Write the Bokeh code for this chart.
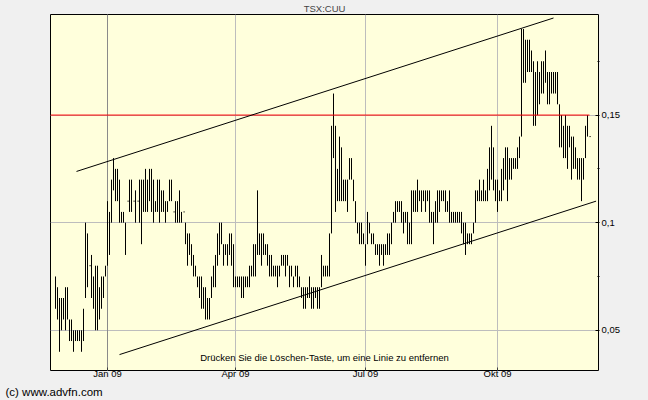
import pandas as pd
from bokeh.plotting import figure
from bokeh.models import FixedTicker, Grid, Title, Label, ColumnDataSource, Range1d
from bokeh.embed import file_html
from bokeh.resources import INLINE

# ---------------- data ----------------
symbol = "TSX:CUU"
start_date = "2008-11-26"          # first trading day shown
month_names = {1: "Jan", 4: "Apr", 7: "Jul", 10: "Okt"}

highs = [
    0.075, 0.07, 0.065, 0.065, 0.065, 0.07, 0.07, 0.055, 0.055, 0.05, 0.05, 0.05, 0.05, 0.05, 0.06,
    0.10, 0.095, 0.08, 0.085, 0.075, 0.08, 0.08, 0.07, 0.075, 0.075, 0.08, 0.11, 0.105, 0.12, 0.13,
    0.125, 0.125, 0.12, 0.105, 0.105, 0.10, 0.11, 0.12, 0.12, 0.11, 0.115, 0.11, 0.12, 0.12,
    0.12, 0.125, 0.12, 0.125, 0.125, 0.12, 0.11, 0.12, 0.12, 0.115, 0.115, 0.11, 0.11, 0.12, 0.12,
    0.105, 0.11, 0.11, 0.115, 0.105, 0.105, 0.10, 0.095, 0.095, 0.09, 0.085, 0.08, 0.075, 0.075, 0.075,
    0.07, 0.07, 0.065, 0.065, 0.075, 0.08, 0.085, 0.095, 0.10, 0.10, 0.09, 0.09, 0.09, 0.095,
    0.095, 0.09, 0.075, 0.075, 0.075, 0.075, 0.075, 0.075, 0.075, 0.08, 0.08, 0.09, 0.09, 0.115, 0.095,
    0.095, 0.095, 0.09, 0.09, 0.085, 0.085, 0.08, 0.08, 0.08, 0.08, 0.085, 0.085, 0.085, 0.085, 0.08,
    0.08, 0.075, 0.08, 0.08, 0.075, 0.07, 0.07, 0.07, 0.07, 0.075, 0.07, 0.07, 0.07, 0.07, 0.07,
    0.085, 0.08, 0.08, 0.08, 0.095, 0.145, 0.16, 0.145, 0.125, 0.14, 0.135, 0.12, 0.12, 0.12, 0.13,
    0.13, 0.12, 0.11, 0.10, 0.10, 0.10, 0.095, 0.09, 0.105, 0.10, 0.095, 0.095, 0.09, 0.09, 0.09,
    0.09, 0.09, 0.09, 0.095, 0.095, 0.10, 0.105, 0.11, 0.11, 0.11, 0.11, 0.105, 0.105, 0.105, 0.10,
    0.115, 0.115, 0.115, 0.12, 0.115, 0.115, 0.115, 0.115, 0.115, 0.115, 0.105, 0.105, 0.11, 0.115, 0.115,
    0.115, 0.115, 0.115, 0.11, 0.115, 0.105, 0.105, 0.105, 0.105, 0.105, 0.105, 0.10, 0.10, 0.095, 0.095,
    0.095, 0.10, 0.115, 0.115, 0.12, 0.115, 0.12, 0.115, 0.125, 0.135, 0.145, 0.135, 0.12, 0.12, 0.115,
    0.125, 0.13, 0.135, 0.135, 0.13, 0.13, 0.13, 0.13, 0.135, 0.14, 0.19, 0.19, 0.185, 0.185, 0.185,
    0.18, 0.175, 0.17, 0.175, 0.17, 0.175, 0.175, 0.18, 0.17, 0.17, 0.17, 0.17, 0.17, 0.17, 0.155,
    0.15, 0.145, 0.15, 0.145, 0.145, 0.14, 0.14, 0.135, 0.13, 0.13, 0.13, 0.13, 0.145, 0.15, 0.14,
]
lows = [
    0.06, 0.055, 0.04, 0.05, 0.055, 0.05, 0.055, 0.045, 0.045, 0.04, 0.045, 0.045, 0.045, 0.04, 0.045,
    0.065, 0.07, 0.08, 0.065, 0.06, 0.05, 0.05, 0.055, 0.06, 0.065, 0.075, 0.08, 0.085, 0.10, 0.115,
    0.11, 0.11, 0.10, 0.10, 0.10, 0.085, 0.11, 0.105, 0.105, 0.11, 0.10, 0.11, 0.10, 0.09,
    0.105, 0.105, 0.105, 0.11, 0.105, 0.10, 0.105, 0.105, 0.10, 0.105, 0.105, 0.10, 0.105, 0.11, 0.11,
    0.105, 0.10, 0.10, 0.10, 0.10, 0.105, 0.09, 0.08, 0.085, 0.08, 0.075, 0.075, 0.07, 0.065, 0.06,
    0.06, 0.055, 0.055, 0.055, 0.065, 0.07, 0.07, 0.08, 0.085, 0.09, 0.08, 0.085, 0.08, 0.085,
    0.08, 0.07, 0.07, 0.07, 0.07, 0.065, 0.065, 0.07, 0.07, 0.07, 0.075, 0.075, 0.075, 0.085, 0.085,
    0.08, 0.085, 0.085, 0.08, 0.075, 0.075, 0.075, 0.075, 0.07, 0.075, 0.08, 0.08, 0.075, 0.08, 0.07,
    0.075, 0.07, 0.075, 0.07, 0.07, 0.065, 0.06, 0.06, 0.065, 0.065, 0.06, 0.06, 0.065, 0.06, 0.06,
    0.07, 0.075, 0.075, 0.075, 0.075, 0.095, 0.13, 0.105, 0.11, 0.11, 0.11, 0.11, 0.11, 0.105, 0.12,
    0.12, 0.11, 0.10, 0.095, 0.09, 0.09, 0.09, 0.08, 0.09, 0.095, 0.09, 0.09, 0.085, 0.085, 0.08,
    0.085, 0.08, 0.085, 0.085, 0.085, 0.09, 0.10, 0.10, 0.105, 0.105, 0.10, 0.095, 0.10, 0.09, 0.09,
    0.09, 0.105, 0.105, 0.105, 0.11, 0.105, 0.11, 0.105, 0.11, 0.10, 0.10, 0.09, 0.10, 0.10, 0.105,
    0.11, 0.11, 0.105, 0.105, 0.10, 0.10, 0.10, 0.10, 0.10, 0.10, 0.095, 0.09, 0.085, 0.09, 0.09,
    0.09, 0.095, 0.10, 0.11, 0.11, 0.11, 0.11, 0.11, 0.11, 0.115, 0.12, 0.115, 0.11, 0.105, 0.11,
    0.11, 0.115, 0.12, 0.11, 0.12, 0.12, 0.125, 0.125, 0.125, 0.13, 0.14, 0.165, 0.165, 0.17, 0.17,
    0.17, 0.145, 0.145, 0.15, 0.155, 0.16, 0.16, 0.165, 0.155, 0.155, 0.16, 0.16, 0.16, 0.155, 0.135,
    0.135, 0.13, 0.13, 0.125, 0.135, 0.12, 0.125, 0.125, 0.12, 0.12, 0.11, 0.12, 0.13, 0.14, 0.14,
]

# user-drawn annotations (bar index, price)
hline_price = 0.15
upper_trend_idx = [10.5, 249.0]
upper_trend_price = [0.1238, 0.1951]
lower_trend_idx = [32.0, 270.3]
lower_trend_price = [0.0387, 0.110]

y_ticks = [0.05, 0.1, 0.15]
y_tick_labels = ["0,05", "0,1", "0,15"]
y_minor_ticks = [0.075, 0.125, 0.175]

hint_text = "Drücken Sie die Löschen-Taste, um eine Linie zu entfernen"
copyright_text = "(c) www.advfn.com"

# ---------------- derived ----------------
FONT = "Liberation Sans"
n = len(highs)
dates = pd.bdate_range(start_date, periods=n)

x_ticks, x_labels, year_ticks = [], {}, []
for i, d in enumerate(dates):
    if d.month in month_names and (i == 0 or dates[i - 1].month != d.month):
        x_ticks.append(i)
        x_labels[i] = f"{month_names[d.month]} {d.strftime('%y')}"
        if d.month == 1:
            year_ticks.append(i)

x_start, x_end = -2.5, 271.5
y_min, y_max = 0.031308, 0.196729

rng = [(i, h, l) for i, (h, l) in enumerate(zip(highs, lows)) if h > l]
flat = [(i, h) for i, (h, l) in enumerate(zip(highs, lows)) if h == l]
src_rng = ColumnDataSource(dict(x=[r[0] for r in rng], hi=[r[1] for r in rng], lo=[r[2] for r in rng]))
src_flat = ColumnDataSource(dict(x0=[f[0] for f in flat], x1=[f[0] + 0.6 for f in flat], y=[f[1] for f in flat]))

p = figure(width=648, height=400, x_range=Range1d(x_start, x_end), y_range=Range1d(y_min, y_max),
           output_backend="svg", toolbar_location=None, y_axis_location="right",
           min_border_left=50, min_border_right=50, min_border_top=0, min_border_bottom=0)
p.background_fill_color = "#ffffdc"
p.border_fill_color = "#f0f0f0"
p.outline_line_color = "black"
p.outline_line_width = 1

p.title.text = symbol
p.title.align = "center"
p.title.text_font = FONT
p.title.text_font_size = "9.5px"
p.title.text_font_style = "normal"
p.title.standoff = 1

# axes
ya = p.yaxis[0]
ya.ticker = FixedTicker(ticks=y_ticks, minor_ticks=y_minor_ticks)
ya.major_label_overrides = dict(zip(y_ticks, y_tick_labels))
ya.axis_line_color = None
ya.major_tick_in, ya.major_tick_out = 3, 1
ya.minor_tick_in, ya.minor_tick_out = 1, 1
ya.major_tick_line_color = "black"
ya.minor_tick_line_color = "black"
ya.major_label_standoff = 2
ya.major_label_text_font = FONT
ya.major_label_text_font_size = "9.5px"
ya.major_label_text_color = "black"

xa = p.xaxis[0]
xa.ticker = FixedTicker(ticks=x_ticks, minor_ticks=[])
xa.major_label_overrides = x_labels
xa.axis_line_color = None
xa.major_tick_in, xa.major_tick_out = 3, 0
xa.major_tick_line_color = "#404040"
xa.major_label_standoff = -3
xa.major_label_text_font = FONT
xa.major_label_text_font_size = "9.5px"
xa.major_label_text_color = "black"

p.xgrid.grid_line_color = "#bdbdbd"
p.ygrid.grid_line_color = "#bdbdbd"
p.add_layout(Grid(dimension=0, ticker=FixedTicker(ticks=year_ticks), grid_line_color="#8a8a8a"))

# bars
p.segment(x0="x", y0="lo", x1="x", y1="hi", source=src_rng, line_color="black", line_width=1)
p.segment(x0="x0", y0="y", x1="x1", y1="y", source=src_flat, line_color="black", line_width=1)

# annotations
p.segment(x0=[x_start], y0=[hline_price], x1=[n - 1], y1=[hline_price], line_color="#ff0000", line_width=1)
p.line(upper_trend_idx, upper_trend_price, line_color="black", line_width=1)
p.line(lower_trend_idx, lower_trend_price, line_color="black", line_width=1)

p.add_layout(Label(x=(x_start + x_end) / 2, y=y_min + 0.037 * (y_max - y_min), text=hint_text,
                   text_align="center", text_baseline="middle", text_font=FONT,
                   text_font_size="9.5px", text_color="black"))

p.add_layout(Title(text=copyright_text, align="left", offset=-45, standoff=5,
                   text_font=FONT, text_font_size="11.5px", text_font_style="normal",
                   text_color="black"), "below")

html = file_html(p, INLINE, title=symbol)
html = html.replace("</head>", "<style>html,body{background:#f0f0f0;}</style></head>", 1)
open("out.html", "w").write(html)
